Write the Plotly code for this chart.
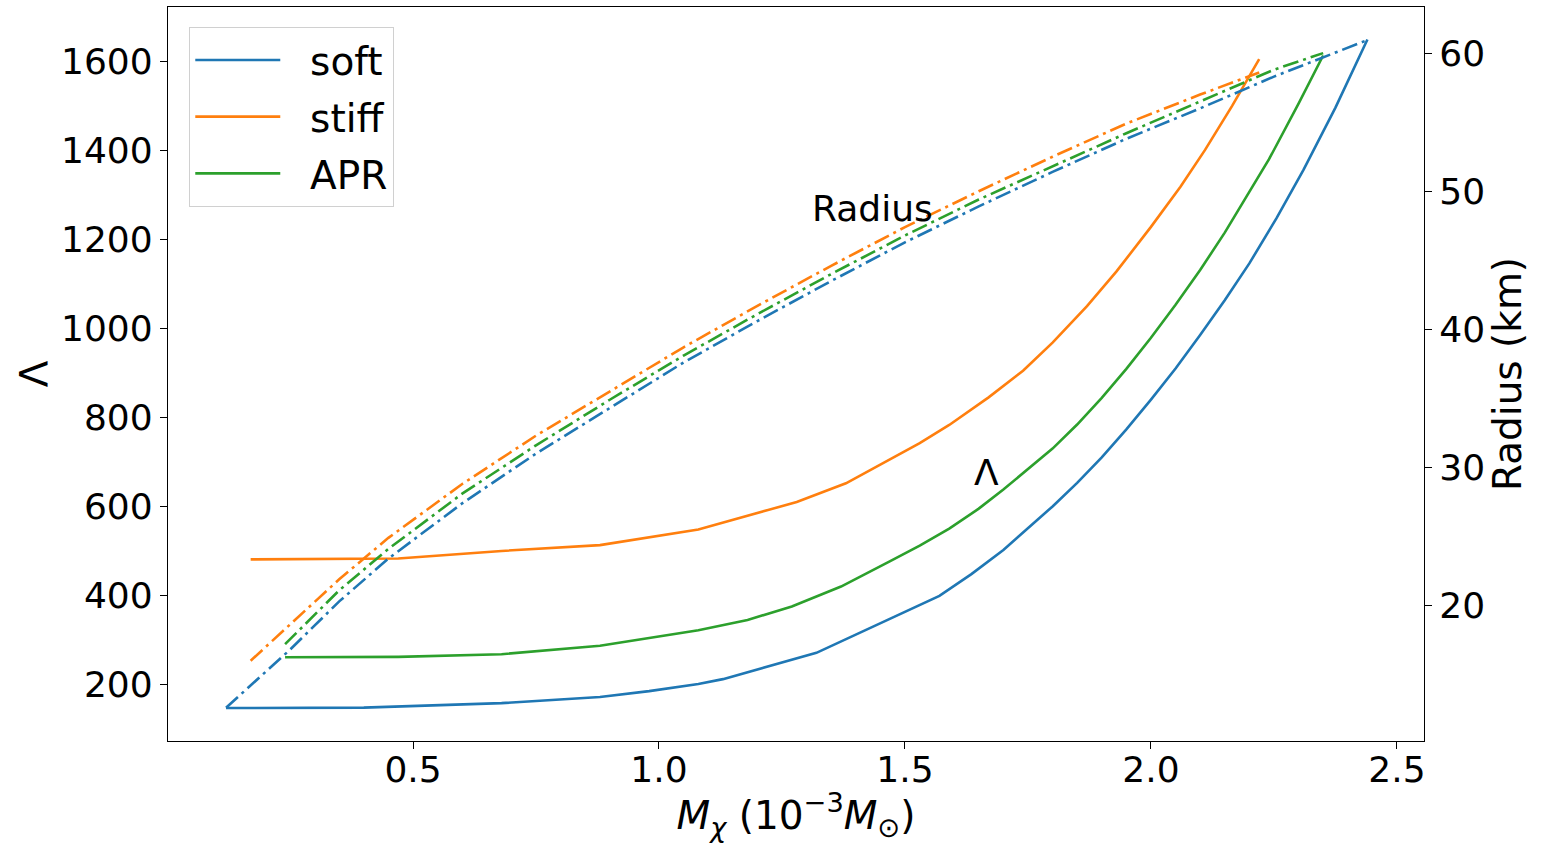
import plotly.graph_objects as go

# ---- Tidal deformability Λ (left axis) ----
soft_m_L = [0.12, 0.40, 0.68, 0.88, 0.98, 1.08, 1.13, 1.32, 1.57, 1.635, 1.70, 1.75, 1.80, 1.85, 1.90,
            1.95, 2.00, 2.05, 2.10, 2.15, 2.20, 2.255, 2.31, 2.375, 2.44]
soft_L = [147, 148, 158, 172, 185, 201, 212, 271, 399, 448, 502, 550, 600, 653, 710,
          773, 840, 910, 985, 1063, 1146, 1247, 1356, 1496, 1649]

stiff_m_L = [0.17, 0.47, 0.68, 0.88, 1.08, 1.28, 1.38, 1.47, 1.53, 1.59, 1.67, 1.74, 1.80, 1.87, 1.93,
             2.00, 2.06, 2.11, 2.165, 2.22]
stiff_L = [481, 483, 500, 513, 548, 610, 652, 706, 742, 783, 845, 905, 968, 1050, 1128,
           1228, 1318, 1401, 1500, 1605]

apr_m_L = [0.24, 0.47, 0.68, 0.88, 1.08, 1.18, 1.27, 1.37, 1.47, 1.53, 1.59, 1.65, 1.70, 1.75, 1.80,
           1.85, 1.90, 1.95, 2.00, 2.05, 2.10, 2.15, 2.20, 2.24, 2.30, 2.35]
apr_L = [261, 262, 268, 287, 322, 345, 375, 420, 477, 512, 550, 595, 638, 683, 730,
         784, 844, 909, 979, 1053, 1131, 1215, 1305, 1380, 1505, 1613]

# ---- Radius in km (right axis) ----
soft_m_R = [0.12, 0.25, 0.35, 0.45, 0.60, 0.75, 0.90, 1.05, 1.20, 1.35, 1.50, 1.65, 1.80, 1.95, 2.10, 2.25, 2.44]
soft_R = [12.6, 16.8, 20.3, 23.4, 27.4, 31.0, 34.3, 37.6, 40.6, 43.5, 46.3, 48.9, 51.4, 53.8, 56.0, 58.3, 60.95]

stiff_m_R = [0.17, 0.25, 0.35, 0.45, 0.60, 0.75, 0.90, 1.05, 1.20, 1.35, 1.50, 1.65, 1.80, 1.95, 2.10, 2.22]
stiff_R = [16.0, 18.6, 21.9, 24.9, 28.8, 32.3, 35.5, 38.7, 41.7, 44.6, 47.4, 50.0, 52.5, 54.9, 57.0, 58.6]

apr_m_R = [0.24, 0.35, 0.45, 0.60, 0.75, 0.90, 1.05, 1.20, 1.35, 1.50, 1.65, 1.80, 1.95, 2.10, 2.25, 2.35]
apr_R = [17.2, 21.1, 24.1, 28.1, 31.6, 34.9, 38.1, 41.1, 44.0, 46.8, 49.4, 51.8, 54.2, 56.5, 58.8, 60.0]

names = ["soft", "stiff", "APR"]
colors = ["#1f77b4", "#ff7f0e", "#2ca02c"]

FONT = "DejaVu Sans"
FS = 36      # tick labels / annotations
FT = 39      # axis titles / legend

fig = go.Figure()

for name, color, m, L in zip(names, colors, [soft_m_L, stiff_m_L, apr_m_L], [soft_L, stiff_L, apr_L]):
    fig.add_trace(go.Scatter(x=m, y=L, mode="lines", name="\u00a0\u00a0" + name, legendgroup=name,
                             line=dict(color=color, width=2.6)))

for name, color, m, R in zip(names, colors, [soft_m_R, stiff_m_R, apr_m_R], [soft_R, stiff_R, apr_R]):
    fig.add_trace(go.Scatter(x=m, y=R, mode="lines", name=name + " radius", showlegend=False,
                             yaxis="y2",
                             line=dict(color=color, width=2.6, dash="16px,5px,3px,5px")))

axis_common = dict(showline=True, linecolor="black", linewidth=1.3, ticks="outside",
                   ticklen=7, tickwidth=1.3, tickcolor="black", showgrid=False, zeroline=False,
                   automargin=False,
                   tickfont=dict(family=FONT, size=FS, color="black"))

fig.update_layout(
    width=1543, height=843,
    margin=dict(l=168, r=119, t=7, b=102),
    paper_bgcolor="white", plot_bgcolor="white",
    font=dict(family=FONT, size=FS, color="black"),
    xaxis=dict(range=[0.002, 2.555], tickvals=[0.5, 1.0, 1.5, 2.0, 2.5],
               ticktext=["0.5", "1.0", "1.5", "2.0", "2.5"], mirror=True,
               ticklabelstandoff=-10,
               title=dict(text="<i>M</i><sub><i>χ</i></sub> (10<sup>−3</sup><i>M</i><sub>⊙</sub>)",
                          font=dict(family=FONT, size=FT, color="black"), standoff=14),
               **axis_common),
    yaxis=dict(range=[73, 1722], tickvals=[200, 400, 600, 800, 1000, 1200, 1400, 1600],
               title=dict(text="Λ", font=dict(family=FONT, size=FT, color="black"), standoff=0),
               **axis_common),
    yaxis2=dict(range=[10.19, 63.34], overlaying="y", side="right", anchor="x",
                tickvals=[20, 30, 40, 50, 60],
                title=dict(text="Radius (km)", font=dict(family=FONT, size=FT, color="black"), standoff=8),
                **axis_common),
    legend=dict(x=0.0167, y=0.973, xanchor="left", yanchor="top",
                bgcolor="white", bordercolor="#d0d0d0", borderwidth=1.3,
                font=dict(family=FONT, size=FT, color="black"), itemwidth=85,
                tracegroupgap=3),
    annotations=[
        dict(x=1.433, y=1270, xref="x", yref="y", text="Radius", showarrow=False,
             font=dict(family=FONT, size=FS, color="black")),
        dict(x=1.665, y=677, xref="x", yref="y", text="Λ", showarrow=False,
             font=dict(family=FONT, size=FS, color="black")),
    ],
)

fig.write_html("out.html")
